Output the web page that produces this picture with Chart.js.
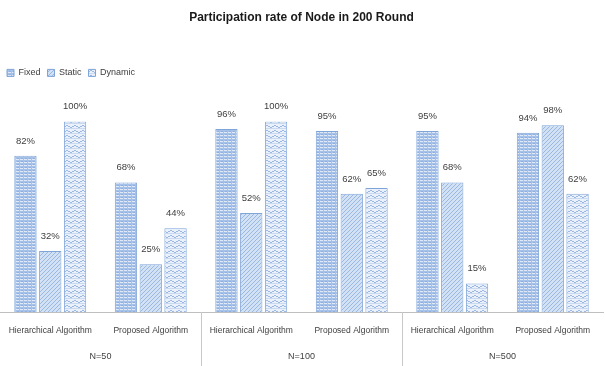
<!DOCTYPE html>
<html>
<head>
<meta charset="utf-8">
<script src="https://cdn.jsdelivr.net/npm/chart.js@4.4.0/dist/chart.umd.min.js"></script>
<style>
html,body{margin:0;padding:0;background:#fff;}
#wrap{width:605px;height:366px;}
</style>
</head>
<body>
<div id="wrap"><canvas id="c" width="605" height="366"></canvas></div>
<script>
const titleText = 'Participation rate of Node in 200 Round';
const categories = ['Hierarchical Algorithm','Proposed Algorithm','Hierarchical Algorithm','Proposed Algorithm','Hierarchical Algorithm','Proposed Algorithm'];
const groups = ['N=50','N=100','N=500'];
const seriesNames = ['Fixed','Static','Dynamic'];
const fixedValues = [82, 68, 96, 95, 95, 94];
const staticValues = [32, 25, 52, 62, 68, 98];
const dynamicValues = [100, 44, 100, 65, 15, 62];

function makePattern(kind){
  const p = document.createElement('canvas');
  const ctx = p.getContext('2d');
  if(kind==='fixed'){
    p.width=4;p.height=3;
    ctx.fillStyle='#a6c1e7';ctx.fillRect(0,0,4,3);
    ctx.fillStyle='#dfe9f7';ctx.fillRect(0,0,3,1);
    ctx.fillStyle='#8fb0e0';ctx.fillRect(1,2,2,1);
  } else if(kind==='static'){
    p.width=4;p.height=4;
    ctx.fillStyle='#d3e1f4';ctx.fillRect(0,0,4,4);
    ctx.fillStyle='#98b7e2';
    for(let i=0;i<4;i++){ctx.fillRect(3-i,i,1,1);}
  } else {
    p.width=8;p.height=5;
    ctx.fillStyle='#eaf1fa';ctx.fillRect(0,0,8,5);
    ctx.fillStyle='#9ab8e2';
    ctx.fillRect(0,1,2,1);ctx.fillRect(2,0,2,1);ctx.fillRect(4,1,2,1);ctx.fillRect(6,2,2,1);
    ctx.fillStyle='#c8d9f0';
    ctx.fillRect(0,3,8,1);
  }
  return document.getElementById('c').getContext('2d').createPattern(p,'repeat');
}

const dataLabels = {
  id:'dataLabels',
  afterDatasetsDraw(chart){
    const ctx = chart.ctx;
    ctx.save();
    ctx.font = '9.5px "Liberation Sans", Arial, sans-serif';
    ctx.fillStyle = '#404040';
    ctx.textAlign = 'center';
    ctx.textBaseline = 'bottom';
    chart.data.datasets.forEach((ds,i)=>{
      chart.getDatasetMeta(i).data.forEach((bar,j)=>{
        ctx.fillText(ds.data[j]+'%', bar.x, bar.y-10);
      });
    });
    ctx.restore();
  }
};

const legendSpace = {
  id:'legendSpace',
  beforeLayout(chart){
    const lg = chart.legend;
    if(lg && !lg._patched){
      const orig = lg.fit;
      lg.fit = function(){ orig.call(this); this.height += 34; };
      lg._patched = true;
    }
  }
};

const separators = {
  id:'separators',
  afterDraw(chart){
    const x = chart.scales.x;
    const ctx = chart.ctx;
    ctx.save();
    ctx.strokeStyle = '#c8c8c8';
    ctx.lineWidth = 1;
    const step = (x.getPixelForValue(1)-x.getPixelForValue(0));
    [2,4].forEach(i=>{
      const px = Math.round(x.getPixelForValue(i)-step/2)+0.5;
      ctx.beginPath();
      ctx.moveTo(px, chart.chartArea.bottom);
      ctx.lineTo(px, chart.height);
      ctx.stroke();
    });
    ctx.restore();
  }
};

const borderCol = '#7fa4d8';
new Chart(document.getElementById('c'), {
  type:'bar',
  data:{
    labels:categories,
    datasets:[
      {label:seriesNames[0], data:fixedValues, backgroundColor:makePattern('fixed'), borderColor:borderCol, borderWidth:1},
      {label:seriesNames[1], data:staticValues, backgroundColor:makePattern('static'), borderColor:borderCol, borderWidth:1},
      {label:seriesNames[2], data:dynamicValues, backgroundColor:makePattern('dynamic'), borderColor:borderCol, borderWidth:1}
    ]
  },
  options:{
    responsive:false,
    animation:false,
    events:[],
    categoryPercentage:0.74,
    barPercentage:0.9,
    layout:{padding:{left:0,right:2,top:0,bottom:3}},
    plugins:{
      title:{display:true,text:titleText,color:'#1a1a1a',font:{family:'"Liberation Sans", Arial, sans-serif',size:12,weight:'bold'},padding:{top:10,bottom:37}},
      legend:{display:true,position:'top',align:'start',
        labels:{boxWidth:7,boxHeight:7,padding:7,color:'#404040',font:{family:'"Liberation Sans", Arial, sans-serif',size:9}}},
      tooltip:{enabled:false}
    },
    scales:{
      y:{display:false,min:0,max:100},
      x:{
        grid:{display:false},
        border:{display:true,color:'#bfbfbf'},
        ticks:{color:'#404040',font:{family:'"Liberation Sans", Arial, sans-serif',size:8.5},maxRotation:0,autoSkip:false,padding:6}
      },
      x2:{
        type:'category',
        position:'bottom',
        labels:groups,
        grid:{display:false},
        border:{display:false},
        ticks:{color:'#404040',font:{family:'"Liberation Sans", Arial, sans-serif',size:9},padding:1}
      }
    }
  },
  plugins:[dataLabels,legendSpace,separators]
});
</script>
</body>
</html>
